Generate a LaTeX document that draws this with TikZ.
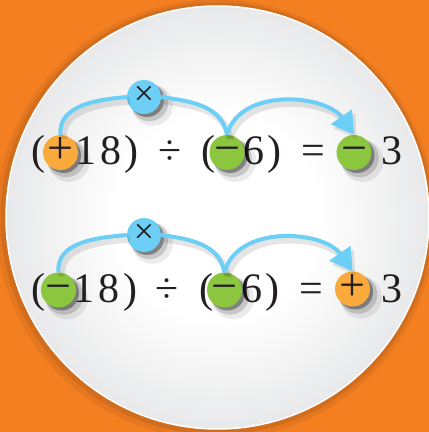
\documentclass[tikz,border=0pt]{standalone}
\usepackage{fontspec}
\setmainfont{Liberation Serif}
\usetikzlibrary{arrows.meta,shadows}
\definecolor{bgOrange}{HTML}{F37F21}
\definecolor{signOrange}{HTML}{FAAA3C}
\definecolor{signGreen}{HTML}{8CC63F}
\definecolor{markBlue}{HTML}{6DCFF6}
\definecolor{inkBlack}{HTML}{231F20}
\definecolor{discMid}{HTML}{DCDDDF}
\definecolor{discEdge}{HTML}{AEB0B3}
\pgfdeclareradialshading{discShade}{\pgfpoint{0bp}{0bp}}{color(0bp)=(white); color(12bp)=(white); color(32bp)=(discMid); color(50bp)=(discEdge)}
\tikzset{
  glyph/.style={anchor=base, inner sep=0pt, text=inkBlack, font=\fontsize{42}{42}\selectfont},
  sign/.style={circle, inner sep=0pt, minimum size=35pt, text=inkBlack,
    text height=23pt, text depth=0pt, font=\fontsize{46}{46}\selectfont,
    drop shadow={shadow xshift=7pt, shadow yshift=-7pt, shadow scale=1.2, opacity=.08, fill=black},
    drop shadow={shadow xshift=5pt, shadow yshift=-5pt, shadow scale=1.1, opacity=.15, fill=black},
    drop shadow={shadow xshift=3pt, shadow yshift=-3pt, opacity=.35, fill=black}},
  mult/.style={sign, fill=markBlue, minimum size=34pt, text height=18pt,
    font=\fontsize{36}{36}\selectfont},
  jump/.style={markBlue, line width=4pt,
    preaction={draw=black, opacity=.1, line width=7pt, transform canvas={shift={(3pt,-4pt)}}}},
  jumptip/.style={jump, -{Triangle[length=22pt, width=25pt]}},
}
\begin{document}
\begin{tikzpicture}[x=1pt, y=1pt]
  \useasboundingbox (0,0) rectangle (429,432);
  \fill[bgOrange] (0,0) rectangle (429,432);
  % grey disc with a soft halo
  \coordinate (disc) at (217.5,214.5);
  \fill[black, opacity=.06] (disc) ++(-2,-2) circle (220);
  \fill[black, opacity=.08] (disc) ++(-1,-1) circle (216);
  \shade[shading=discShade] (disc) circle (211.5);
  \draw[white, line width=1.5pt] (disc) circle (211.5);
  % first row: (+18) / (-6) = -3
  \node[glyph] (open1a)  at (38,267)  {(};
  \node[glyph] (one1)    at (86,267)  {1};
  \node[glyph] (eight1)  at (111,267) {8};
  \node[glyph] (close1a) at (131,267) {)};
  \node[glyph] (div1)    at (170,267) {÷};
  \node[glyph] (open1b)  at (208,267) {(};
  \node[glyph] (six1)    at (254,267) {6};
  \node[glyph] (close1b) at (274,267) {)};
  \node[glyph] (eq1)     at (313,267) {=};
  \node[glyph] (three1)  at (392,267) {3};
  \node[sign, fill=signOrange] (sg1a) at (60.5,279.5) {+};
  \node[sign, fill=signGreen]  (sg1b) at (227,279.5)  {−};
  \node[sign, fill=signGreen]  (sg1c) at (354,279.5)  {−};
  \node[mult] (mult1) at (144,335) {×};
  \draw[jump] (sg1a.north) to[out=95, in=185] (mult1.west);
  \draw[jump] (mult1.east) to[out=-8, in=100] (sg1b.north);
  \draw[jumptip] (sg1b.north) to[out=75, in=125] (sg1c.north);
  % second row: (-18) / (-6) = +3
  \node[glyph] (open2a)  at (38,129)  {(};
  \node[glyph] (one2)    at (84,129)  {1};
  \node[glyph] (eight2)  at (109,129) {8};
  \node[glyph] (close2a) at (130,129) {)};
  \node[glyph] (div2)    at (167,129) {÷};
  \node[glyph] (open2b)  at (206,129) {(};
  \node[glyph] (six2)    at (252,129) {6};
  \node[glyph] (close2b) at (272,129) {)};
  \node[glyph] (eq2)     at (311,129) {=};
  \node[glyph] (three2)  at (392,129) {3};
  \node[sign, fill=signGreen]  (sg2a) at (58.5,142)  {−};
  \node[sign, fill=signGreen]  (sg2b) at (224.5,142) {−};
  \node[sign, fill=signOrange] (sg2c) at (352.5,143) {+};
  \node[mult] (mult2) at (144,197) {×};
  \draw[jump] (sg2a.north) to[out=95, in=185] (mult2.west);
  \draw[jump] (mult2.east) to[out=-8, in=100] (sg2b.north);
  \draw[jumptip] (sg2b.north) to[out=75, in=125] (sg2c.north);
\end{tikzpicture}
\end{document}
